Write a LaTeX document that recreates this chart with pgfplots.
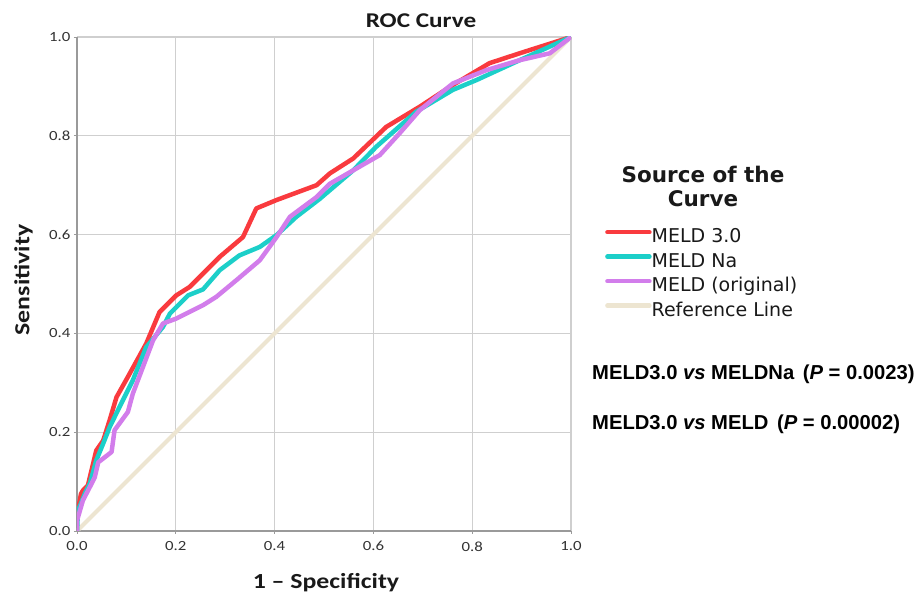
\documentclass[border=0pt]{standalone}
\usepackage{pgfplots}
\pgfplotsset{compat=1.18}
\usepackage{fontspec}
\setmainfont{Liberation Sans}
\newfontfamily\calib[FakeStretch=1.2]{Carlito}
\newfontfamily\dejavu{DejaVu Sans}
\definecolor{cred}{HTML}{F93A3E}
\definecolor{ccyan}{HTML}{1CCFC9}
\definecolor{cpurple}{HTML}{D27DEB}
\definecolor{cref}{HTML}{EDE5D1}
\definecolor{gridgray}{HTML}{CFCFCF}
\definecolor{axisgray}{HTML}{9A9A9A}
\definecolor{tickgray}{HTML}{333333}
\begin{document}
\begin{tikzpicture}
\useasboundingbox (-77bp,-64bp) rectangle (840bp,531bp);
\begin{axis}[
  scale only axis, width=494bp, height=494bp,
  xmin=0, xmax=1, ymin=0, ymax=1,
  xtick={0,0.2,0.4,0.6,0.8,1}, ytick={0,0.2,0.4,0.6,0.8,1},
  xticklabels={0.0,0.2,0.4,0.6,0.8,1.0},
  yticklabels={0.0,0.2,0.4,0.6,0.8,1.0},
  axis lines=left, axis line style={-, draw=axisgray, line width=1.8bp},
  grid=major, grid style={gridgray, line width=1.3bp},
  tick style={draw=axisgray, line width=0.8bp}, major tick length=3bp, tick align=outside,
  ticklabel style={font=\calib\fontsize{14bp}{16bp}\selectfont, text=tickgray},
  xticklabel style={yshift=-4bp},
  legend style={at={(axis description cs:1.0688,0.6123)}, anchor=north west,
    draw=none, fill=none, inner sep=0pt,
    font=\dejavu\fontsize{19bp}{22bp}\selectfont, text=black!90,
    nodes={inner sep=0pt, text height=14bp, text depth=5bp},
    row sep=5.5bp,
    /tikz/every even column/.append style={column sep=3bp}},
  legend cell align=left,
  legend image code/.code={\draw[#1, line cap=round] (0bp,6bp) -- (42bp,6bp);},
]
\addplot[cref, line width=4bp, forget plot] coordinates {(0,0) (1,1)};
\addplot[cred, line width=4.5bp, line join=round] coordinates {
(0,0) (0,0.03) (0.008,0.075) (0.012,0.082) (0.022,0.092) (0.039,0.163) (0.053,0.183)
(0.066,0.224) (0.08,0.271) (0.103,0.312) (0.14,0.379) (0.167,0.443) (0.201,0.477)
(0.228,0.494) (0.242,0.508) (0.289,0.555) (0.336,0.595) (0.363,0.653) (0.404,0.670)
(0.485,0.700) (0.512,0.724) (0.559,0.754) (0.626,0.818) (0.694,0.859) (0.761,0.903)
(0.835,0.947) (0.896,0.967) (1,1)};
\addlegendentry{MELD 3.0}
\addplot[ccyan, line width=4.5bp, line join=round] coordinates {
(0,0) (0.002,0.041) (0.016,0.076) (0.026,0.096) (0.039,0.143) (0.053,0.177) (0.066,0.21)
(0.086,0.251) (0.113,0.305) (0.14,0.372) (0.174,0.413) (0.188,0.44) (0.225,0.477)
(0.255,0.489) (0.289,0.528) (0.329,0.558) (0.370,0.575) (0.404,0.599) (0.444,0.636)
(0.491,0.672) (0.559,0.730) (0.606,0.778) (0.687,0.849) (0.761,0.893) (0.809,0.913)
(0.896,0.953) (1,1)};
\addlegendentry{MELD Na}
\addplot[cpurple, line width=4.5bp, line join=round] coordinates {
(0,0) (0,0.021) (0.012,0.062) (0.026,0.089) (0.036,0.109) (0.043,0.139) (0.07,0.16)
(0.076,0.204) (0.103,0.241) (0.113,0.278) (0.154,0.386) (0.174,0.42) (0.201,0.43)
(0.255,0.457) (0.282,0.474) (0.323,0.508) (0.37,0.548) (0.404,0.595) (0.431,0.636)
(0.485,0.676) (0.512,0.703) (0.559,0.730) (0.613,0.761) (0.653,0.805) (0.694,0.852)
(0.761,0.906) (0.829,0.933) (0.896,0.953) (0.957,0.967) (1,1)};
\addlegendentry{MELD (original)}
\addlegendimage{cref, line width=4.5bp}
\addlegendentry{Reference Line}
\end{axis}
\node[anchor=base, font=\calib\bfseries\fontsize{21bp}{24bp}\selectfont, text=black!90] at (344bp,503bp) {ROC Curve};
\node[anchor=base, font=\calib\bfseries\fontsize{21.5bp}{24bp}\selectfont, text=black!90] at (249bp,-57bp) {1 – Specificity};
\node[anchor=base, rotate=90, font=\calib\bfseries\fontsize{21.5bp}{24bp}\selectfont, text=black!90] at (-47.5bp,251bp) {Sensitivity};
\node[anchor=base, align=center, inner sep=0pt, font=\dejavu\bfseries\fontsize{21.5bp}{24bp}\selectfont, text=black!90] at (626bp,324bp) {Source of the\\Curve};
\node[anchor=base west, inner sep=0pt, font=\bfseries\fontsize{20.2bp}{24bp}\selectfont] at (515bp,151bp) {MELD3.0 \textit{vs} MELDNa\hspace{3bp} (\textit{P} = 0.0023)};
\node[anchor=base west, inner sep=0pt, font=\bfseries\fontsize{20.2bp}{24bp}\selectfont] at (515bp,101bp) {MELD3.0 \textit{vs} MELD\hspace{3bp} (\textit{P} = 0.00002)};
\end{tikzpicture}
\end{document}
